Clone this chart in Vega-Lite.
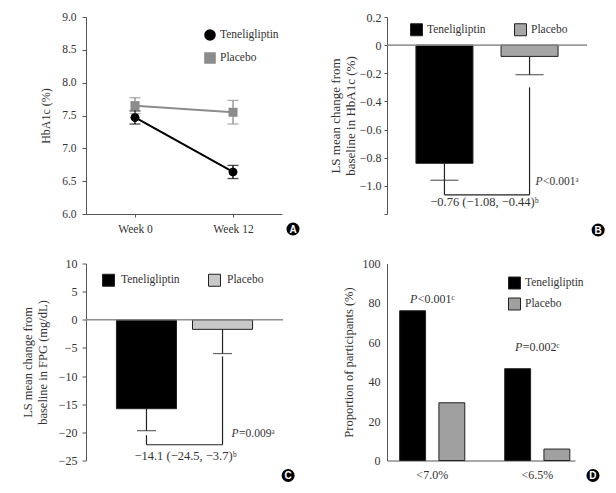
{
  "$schema": "https://vega.github.io/schema/vega-lite/v6.json",
  "background": "white",
  "padding": {"left": 21, "top": 11, "right": 0, "bottom": 0},
  "columns": 2,
  "bounds": "flush",
  "align": "all",
  "spacing": {"row": 49.5, "column": 101},
  "resolve": {
    "scale": {"color": "independent", "shape": "independent", "size": "independent"},
    "legend": {"color": "independent", "shape": "independent"}
  },
  "config": {
    "view": {"stroke": null},
    "font": "Liberation Serif",
    "axis": {
      "domainColor": "#555555",
      "tickColor": "#555555",
      "labelColor": "#333333",
      "titleColor": "#333333",
      "labelFont": "Liberation Serif",
      "titleFont": "Liberation Serif",
      "titleFontWeight": "normal",
      "grid": false,
      "tickSize": 4,
      "labelFontSize": 12,
      "titleFontSize": 12.5,
      "labelOverlap": false
    },
    "legend": {
      "labelFont": "Liberation Serif",
      "labelColor": "#333333",
      "labelFontSize": 11.5
    }
  },
  "datasets": {
    "a": [
      {"group": "Teneligliptin", "week": "Week 0", "mean": 7.47, "lo": 7.37, "hi": 7.57},
      {"group": "Teneligliptin", "week": "Week 12", "mean": 6.64, "lo": 6.54, "hi": 6.74},
      {"group": "Placebo", "week": "Week 0", "mean": 7.65, "lo": 7.53, "hi": 7.77},
      {"group": "Placebo", "week": "Week 12", "mean": 7.55, "lo": 7.37, "hi": 7.73}
    ],
    "b": [
      {"group": "Teneligliptin", "mean": -0.84, "lo": -0.96},
      {"group": "Placebo", "mean": -0.08, "lo": -0.21}
    ],
    "bVert": [
      {"group": "Placebo", "top": -0.30, "bottom": -1.064},
      {"group": "Teneligliptin", "top": -0.96, "bottom": -1.064}
    ],
    "bHor": [
      {"group": "Teneligliptin", "group2": "Placebo", "y": -1.064}
    ],
    "bText": [
      {"group": "Placebo", "y": -0.976, "p": "P", "rest": "<0.001ᵃ"}
    ],
    "bDiff": [
      {"group": "Teneligliptin", "y": -1.112, "label": "−0.76 (−1.08, −0.44)ᵇ"}
    ],
    "c": [
      {"group": "Teneligliptin", "mean": -15.8, "lo": -19.7},
      {"group": "Placebo", "mean": -1.7, "lo": -6.0}
    ],
    "cVert": [
      {"group": "Placebo", "top": -6.5, "bottom": -22.2},
      {"group": "Teneligliptin", "top": -20.5, "bottom": -22.2}
    ],
    "cHor": [
      {"group": "Teneligliptin", "group2": "Placebo", "y": -22.2}
    ],
    "cText": [
      {"group": "Placebo", "y": -20.3, "p": "P", "rest": "=0.009ᵃ"}
    ],
    "cDiff": [
      {"group": "Teneligliptin", "y": -24.2, "label": "−14.1 (−24.5, −3.7)ᵇ"}
    ],
    "d": [
      {"cat": "<7.0%", "group": "Teneligliptin", "pct": 76},
      {"cat": "<7.0%", "group": "Placebo", "pct": 29.3},
      {"cat": "<6.5%", "group": "Teneligliptin", "pct": 46.6},
      {"cat": "<6.5%", "group": "Placebo", "pct": 5.8}
    ],
    "dText": [
      {"cat": "<7.0%", "y": 82.2, "p": "P", "rest": "<0.001ᶜ"},
      {"cat": "<6.5%", "y": 57.6, "p": "P", "rest": "=0.002ᶜ"}
    ],
    "tagA": [{"week": "Week 12", "y": 6.0, "tag": "A"}],
    "tagB": [{"group": "Placebo", "y": -1.2, "tag": "B"}],
    "tagC": [{"group": "Placebo", "y": -25, "tag": "C"}],
    "tagD": [{"cat": "<6.5%", "y": 0, "tag": "D"}]
  },
  "concat": [
    {
      "width": 196,
      "height": 197,
      "encoding": {
        "x": {
          "field": "week", "type": "ordinal",
          "scale": {"type": "point", "padding": 0.5, "domain": ["Week 0", "Week 12"]},
          "axis": {"title": null, "labelAngle": 0, "tickSize": 3, "labelPadding": 6, "labelFontSize": 11.5}
        }
      },
      "layer": [
        {
          "data": {"name": "a"},
          "mark": {"type": "point", "filled": true, "opacity": 1},
          "encoding": {
            "y": {"field": "mean", "type": "quantitative",
              "scale": {"domain": [6, 9]},
              "axis": {"values": [6, 6.5, 7, 7.5, 8, 8.5, 9], "tickCount": 20, "format": ".1f", "title": "HbA1c (%)", "labelFontSize": 11.5, "labelOverlap": false, "labelPadding": 6, "titlePadding": 9, "titleFontSize": 12}
            },
            "color": {"field": "group", "type": "nominal",
              "scale": {"domain": ["Teneligliptin", "Placebo"], "range": ["#000000", "#8c8c8c"]},
              "legend": {
                "title": null, "orient": "none", "legendX": 118, "legendY": 12,
                "symbolSize": 100, "rowPadding": 5, "labelOffset": 4, "labelFontSize": 11.5, "symbolOpacity": 1,
                "encode": {"symbols": {"update": {
                  "shape": {"signal": "datum.value === 'Teneligliptin' ? 'M-1.7,0H1.7M0.85,0A0.85,0.85,0,1,1,-0.85,0A0.85,0.85,0,1,1,0.85,0Z' : 'M-1.7,0H1.7M-0.85,-0.85H0.85V0.85H-0.85Z'"},
                  "stroke": {"signal": "datum.value === 'Teneligliptin' ? '#000000' : '#8c8c8c'"},
                  "strokeWidth": {"value": 1.6}
                }}}
              }
            },
            "shape": {"field": "group", "type": "nominal", "scale": {"domain": ["Teneligliptin", "Placebo"], "range": ["circle", "square"]}, "legend": null},
            "size": {"value": 75}
          }
        },
        {
          "data": {"name": "a"},
          "mark": {"type": "rule", "strokeWidth": 1.3},
          "encoding": {
            "y": {"field": "lo", "type": "quantitative"},
            "y2": {"field": "hi"},
            "color": {"field": "group", "type": "nominal"}
          }
        },
        {
          "data": {"name": "a"},
          "mark": {"type": "tick", "size": 11, "thickness": 1.3},
          "encoding": {"y": {"field": "lo", "type": "quantitative"}, "color": {"field": "group", "type": "nominal"}}
        },
        {
          "data": {"name": "a"},
          "mark": {"type": "tick", "size": 11, "thickness": 1.3},
          "encoding": {"y": {"field": "hi", "type": "quantitative"}, "color": {"field": "group", "type": "nominal"}}
        },
        {
          "data": {"name": "a"},
          "mark": {"type": "line", "strokeWidth": 2},
          "encoding": {"y": {"field": "mean", "type": "quantitative"}, "color": {"field": "group", "type": "nominal"}}
        },
        {
          "data": {"name": "a"},
          "mark": {"type": "point", "filled": true, "opacity": 1},
          "encoding": {
            "y": {"field": "mean", "type": "quantitative"},
            "color": {"field": "group", "type": "nominal"},
            "shape": {"field": "group", "type": "nominal", "legend": null},
            "size": {"value": 75}
          }
        },
        {
          "data": {"name": "tagA"},
          "mark": {"type": "point", "filled": true, "opacity": 1, "size": 170, "shape": "circle", "xOffset": 60, "yOffset": 15},
          "encoding": {"y": {"field": "y", "type": "quantitative"}, "color": {"value": "#000000"}}
        },
        {
          "data": {"name": "tagA"},
          "mark": {"type": "text", "font": "Liberation Sans", "fontWeight": "bold", "fontSize": 10, "dx": 60, "dy": 15.5, "baseline": "middle"},
          "encoding": {"y": {"field": "y", "type": "quantitative"}, "text": {"field": "tag"}, "color": {"value": "#ffffff"}}
        }
      ]
    },
    {
      "width": 200,
      "height": 197,
      "encoding": {
        "x": {"field": "group", "type": "nominal",
          "scale": {"domain": ["Teneligliptin", "Placebo"], "paddingInner": 0.33, "paddingOuter": 0.34},
          "axis": null}
      },
      "layer": [
        {
          "data": {"name": "b"},
          "mark": {"type": "bar", "stroke": "#222222", "strokeWidth": 1},
          "encoding": {
            "y": {"field": "mean", "type": "quantitative",
              "scale": {"domain": [-1.2, 0.2], "nice": false},
              "axis": {"values": [-1.2, -1, -0.8, -0.6, -0.4, -0.2, 0, 0.2], "tickCount": 20,
                "labelExpr": "datum.value === 0 ? '0' : (datum.value < -1.1 ? '' : format(datum.value, '.1f'))",
                "labelOverlap": false, "labelFontSize": 12,
                "title": ["LS mean change from", "baseline in HbA1c (%)"],
                "titleFontSize": 13, "titleLineHeight": 15, "tickSize": 3, "labelPadding": 3, "titlePadding": 2}
            },
            "color": {"field": "group", "type": "nominal",
              "scale": {"domain": ["Teneligliptin", "Placebo"], "range": ["#000000", "#a6a6a6"]},
              "legend": {"title": null, "orient": "none", "direction": "horizontal", "legendX": 23, "legendY": 6,
                "symbolType": "square", "symbolSize": 144, "columnPadding": 26, "labelOffset": 4, "labelFontSize": 11.5,
                "symbolStrokeColor": "#222222", "symbolStrokeWidth": 1, "symbolOpacity": 1}
            }
          }
        },
        {
          "data": {"name": "b"},
          "mark": {"type": "rule", "color": "#888888", "strokeWidth": 1},
          "encoding": {"x": null, "y": {"datum": 0, "type": "quantitative"}}
        },
        {
          "data": {"name": "b"},
          "mark": {"type": "rule", "color": "#222222", "strokeWidth": 1.2},
          "encoding": {"y": {"field": "mean", "type": "quantitative"}, "y2": {"field": "lo"}}
        },
        {
          "data": {"name": "b"},
          "mark": {"type": "tick", "color": "#222222", "size": 28, "thickness": 1.2},
          "encoding": {"y": {"field": "lo", "type": "quantitative"}}
        },
        {
          "data": {"name": "bVert"},
          "mark": {"type": "rule", "color": "#222222", "strokeWidth": 1.2},
          "encoding": {"y": {"field": "top", "type": "quantitative"}, "y2": {"field": "bottom"}}
        },
        {
          "data": {"name": "bHor"},
          "mark": {"type": "rule", "color": "#222222", "strokeWidth": 1.2},
          "encoding": {"x2": {"field": "group2"}, "y": {"field": "y", "type": "quantitative"}}
        },
        {
          "data": {"name": "bText"},
          "mark": {"type": "text", "align": "right", "baseline": "middle", "fontStyle": "italic", "fontSize": 11.5, "color": "#333333", "dx": 13},
          "encoding": {"y": {"field": "y", "type": "quantitative"}, "text": {"field": "p"}}
        },
        {
          "data": {"name": "bText"},
          "mark": {"type": "text", "align": "left", "baseline": "middle", "fontSize": 11.5, "color": "#333333", "dx": 13.5},
          "encoding": {"y": {"field": "y", "type": "quantitative"}, "text": {"field": "rest"}}
        },
        {
          "data": {"name": "bDiff"},
          "mark": {"type": "text", "align": "center", "baseline": "middle", "fontSize": 12.5, "color": "#333333", "dx": 40},
          "encoding": {"y": {"field": "y", "type": "quantitative"}, "text": {"field": "label"}}
        },
        {
          "data": {"name": "tagB"},
          "mark": {"type": "point", "filled": true, "color": "#000000", "opacity": 1, "size": 170, "shape": "circle", "xOffset": 68.6, "yOffset": 16},
          "encoding": {"y": {"field": "y", "type": "quantitative"}}
        },
        {
          "data": {"name": "tagB"},
          "mark": {"type": "text", "color": "white", "font": "Liberation Sans", "fontWeight": "bold", "fontSize": 10, "dx": 68.6, "dy": 16.5, "baseline": "middle"},
          "encoding": {"y": {"field": "y", "type": "quantitative"}, "text": {"field": "tag"}}
        }
      ]
    },
    {
      "width": 197,
      "height": 197,
      "encoding": {
        "x": {"field": "group", "type": "nominal",
          "scale": {"domain": ["Teneligliptin", "Placebo"], "paddingInner": 0.21, "paddingOuter": 0.4},
          "axis": null}
      },
      "layer": [
        {
          "data": {"name": "c"},
          "mark": {"type": "bar", "stroke": "#222222", "strokeWidth": 1},
          "encoding": {
            "y": {"field": "mean", "type": "quantitative",
              "scale": {"domain": [-25, 10], "nice": false},
              "axis": {"values": [-25, -20, -15, -10, -5, 0, 5, 10], "tickCount": 20, "format": "d",
                "labelOverlap": false, "labelFontSize": 12,
                "title": ["LS mean change from", "baseline in FPG (mg/dL)"],
                "titleFontSize": 12.5, "titleLineHeight": 15, "tickSize": 4, "labelPadding": 5, "titlePadding": 9}
            },
            "color": {"field": "group", "type": "nominal",
              "scale": {"domain": ["Teneligliptin", "Placebo"], "range": ["#000000", "#c8c8c8"]},
              "legend": {"title": null, "orient": "none", "direction": "horizontal", "legendX": 16, "legendY": 10,
                "symbolType": "square", "symbolSize": 144, "columnPadding": 26, "labelOffset": 6, "labelFontSize": 11.5,
                "symbolStrokeColor": "#222222", "symbolStrokeWidth": 1, "symbolOpacity": 1}
            }
          }
        },
        {
          "data": {"name": "c"},
          "mark": {"type": "rule", "color": "#888888", "strokeWidth": 1},
          "encoding": {"x": null, "y": {"datum": 0, "type": "quantitative"}}
        },
        {
          "data": {"name": "c"},
          "mark": {"type": "rule", "color": "#222222", "strokeWidth": 1.2},
          "encoding": {"y": {"field": "mean", "type": "quantitative"}, "y2": {"field": "lo"}}
        },
        {
          "data": {"name": "c"},
          "mark": {"type": "tick", "color": "#222222", "size": 19, "thickness": 1.2},
          "encoding": {"y": {"field": "lo", "type": "quantitative"}}
        },
        {
          "data": {"name": "cVert"},
          "mark": {"type": "rule", "color": "#222222", "strokeWidth": 1.2},
          "encoding": {"y": {"field": "top", "type": "quantitative"}, "y2": {"field": "bottom"}}
        },
        {
          "data": {"name": "cHor"},
          "mark": {"type": "rule", "color": "#222222", "strokeWidth": 1.2},
          "encoding": {"x2": {"field": "group2"}, "y": {"field": "y", "type": "quantitative"}}
        },
        {
          "data": {"name": "cText"},
          "mark": {"type": "text", "align": "right", "baseline": "middle", "fontStyle": "italic", "fontSize": 11.5, "color": "#333333", "dx": 16},
          "encoding": {"y": {"field": "y", "type": "quantitative"}, "text": {"field": "p"}}
        },
        {
          "data": {"name": "cText"},
          "mark": {"type": "text", "align": "left", "baseline": "middle", "fontSize": 11.5, "color": "#333333", "dx": 16.5},
          "encoding": {"y": {"field": "y", "type": "quantitative"}, "text": {"field": "rest"}}
        },
        {
          "data": {"name": "cDiff"},
          "mark": {"type": "text", "align": "center", "baseline": "middle", "fontSize": 12.5, "color": "#333333", "dx": 39},
          "encoding": {"y": {"field": "y", "type": "quantitative"}, "text": {"field": "label"}}
        },
        {
          "data": {"name": "tagC"},
          "mark": {"type": "point", "filled": true, "color": "#000000", "opacity": 1, "size": 170, "shape": "circle", "xOffset": 65.6, "yOffset": 15},
          "encoding": {"y": {"field": "y", "type": "quantitative"}}
        },
        {
          "data": {"name": "tagC"},
          "mark": {"type": "text", "color": "white", "font": "Liberation Sans", "fontWeight": "bold", "fontSize": 10, "dx": 65.6, "dy": 15.5, "baseline": "middle"},
          "encoding": {"y": {"field": "y", "type": "quantitative"}, "text": {"field": "tag"}}
        }
      ]
    },
    {
      "width": 188,
      "height": 197,
      "encoding": {
        "x": {"field": "cat", "type": "nominal",
          "scale": {"domain": ["<7.0%", "<6.5%"], "paddingInner": 0.38, "paddingOuter": 0.085, "align": 0.71},
          "axis": {"title": null, "labelAngle": 0, "ticks": false, "labelPadding": 9, "labelFontSize": 12}}
      },
      "layer": [
        {
          "data": {"name": "d"},
          "mark": {"type": "bar", "stroke": "#222222", "strokeWidth": 1},
          "encoding": {
            "xOffset": {"field": "group", "type": "nominal", "scale": {"domain": ["Teneligliptin", "Placebo"], "paddingInner": 0.34, "paddingOuter": 0}},
            "y": {"field": "pct", "type": "quantitative",
              "scale": {"domain": [0, 100], "nice": false},
              "axis": {"values": [0, 20, 40, 60, 80, 100], "tickCount": 20, "title": "Proportion of participants (%)",
                "labelOverlap": false, "labelFontSize": 12,
                "titleFontSize": 12.5, "tickSize": 0, "labelPadding": 7, "titlePadding": 7}
            },
            "color": {"field": "group", "type": "nominal",
              "scale": {"domain": ["Teneligliptin", "Placebo"], "range": ["#000000", "#a0a0a0"]},
              "legend": {"title": null, "orient": "none", "legendX": 121, "legendY": 13,
                "symbolType": "square", "symbolSize": 144, "rowPadding": 4, "labelOffset": 4, "labelFontSize": 11.5,
                "symbolStrokeColor": "#222222", "symbolStrokeWidth": 1, "symbolOpacity": 1}
            }
          }
        },
        {
          "data": {"name": "dText"},
          "mark": {"type": "text", "align": "right", "baseline": "middle", "fontStyle": "italic", "fontSize": 12, "color": "#333333", "dx": -15},
          "encoding": {"y": {"field": "y", "type": "quantitative"}, "text": {"field": "p"}}
        },
        {
          "data": {"name": "dText"},
          "mark": {"type": "text", "align": "left", "baseline": "middle", "fontSize": 12, "color": "#333333", "dx": -14.5},
          "encoding": {"y": {"field": "y", "type": "quantitative"}, "text": {"field": "rest"}}
        },
        {
          "data": {"name": "tagD"},
          "mark": {"type": "point", "filled": true, "color": "#000000", "opacity": 1, "size": 170, "shape": "circle", "xOffset": 55.7, "yOffset": 15},
          "encoding": {"y": {"field": "y", "type": "quantitative"}}
        },
        {
          "data": {"name": "tagD"},
          "mark": {"type": "text", "color": "white", "font": "Liberation Sans", "fontWeight": "bold", "fontSize": 10, "dx": 55.7, "dy": 15.5, "baseline": "middle"},
          "encoding": {"y": {"field": "y", "type": "quantitative"}, "text": {"field": "tag"}}
        }
      ]
    }
  ]
}
